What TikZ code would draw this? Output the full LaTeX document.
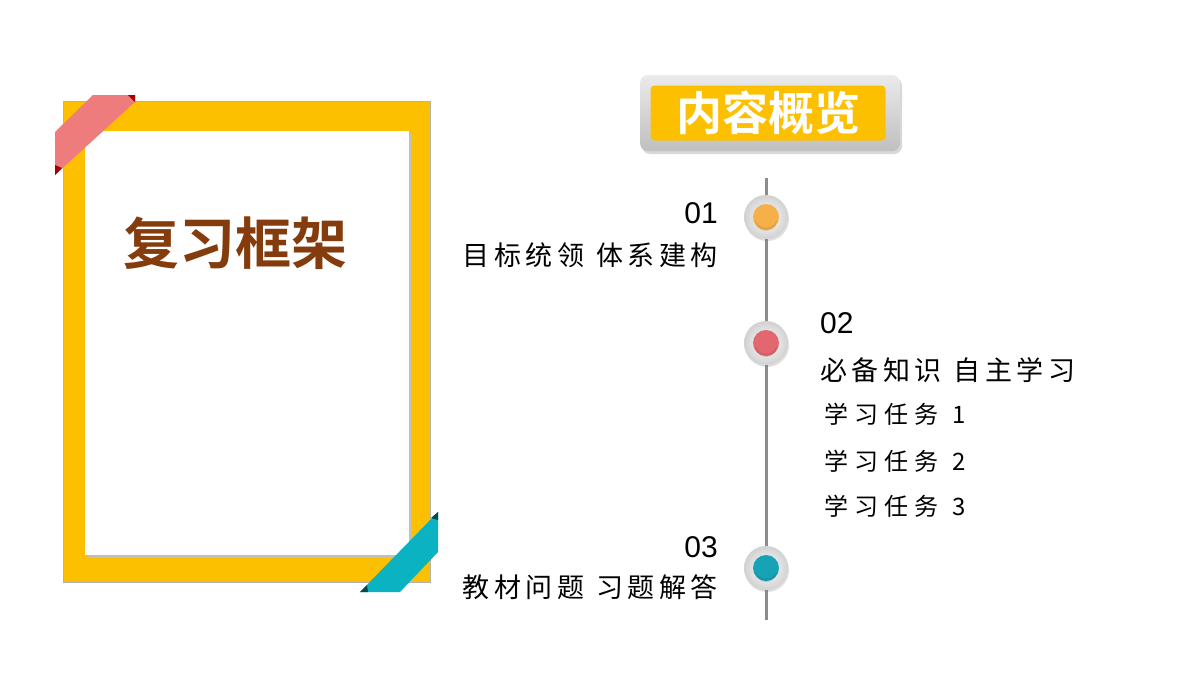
\documentclass[tikz,border=0pt]{standalone}
\usepackage{fontspec}
\newfontfamily\cjk{Noto Sans CJK SC}
\newfontfamily\cjkb{Noto Sans CJK SC Bold}
\usetikzlibrary{shadows}
\definecolor{gold}{HTML}{FDC000}
\definecolor{brownt}{HTML}{843C0C}
\definecolor{ribred}{HTML}{EE7C7C}
\definecolor{ribteal}{HTML}{0BB3C2}
\definecolor{dotor}{HTML}{F5B04A}
\definecolor{dotrd}{HTML}{E2676F}
\definecolor{dottl}{HTML}{17A3B5}
\tikzset{
 lbl/.style={font=\cjk\fontsize{27}{30}\selectfont,inner sep=0pt},
 sub/.style={font=\cjk\fontsize{24}{28}\selectfont,inner sep=0pt,anchor=west},
 num/.style={font=\fontspec{Liberation Sans}\fontsize{30}{32}\selectfont,inner sep=0pt},
 dotout/.style={circle,minimum size=44pt,inner sep=0pt,shading=radial,inner color=white,outer color=black!18,drop shadow={shadow xshift=1pt,shadow yshift=-2pt,opacity=0.25}},
}
\begin{document}
\begin{tikzpicture}[x=1pt,y=-1pt]
\useasboundingbox (0,0) rectangle (1200,675);
\fill[white] (0,0) rectangle (1200,675);
% frame
\fill[black!30] (63,101) rectangle (431,583);
\fill[gold] (64,102) rectangle (430,582);
\fill[black!25] (88,134) rectangle (412,558);
\fill[white] (85,131) rectangle (409,555);
% ribbons
\fill[ribred] (93,95) -- (135,95) -- (135,102) -- (55,175) -- (55,132) -- cycle;
\fill[red!65!black] (55,165) -- (62,168) -- (55,175) -- cycle;
\fill[red!65!black] (128,95) -- (135,95) -- (135,102) -- cycle;
\fill[ribteal] (438,512) -- (438,552) -- (400,592) -- (360,592) -- cycle;
\fill[teal!60!black] (438,512) -- (431,518) -- (438,520) -- cycle;
\fill[teal!60!black] (360,592) -- (367,585) -- (368,592) -- cycle;
\node[font=\cjkb\fontsize{56}{60}\selectfont,text=brownt] (t) at (235,243) {复习框架};
% title
\node[draw=none,rounded corners=8pt,minimum width=260pt,minimum height=76pt,
  top color=black!8,bottom color=black!25,drop shadow={shadow xshift=2pt,shadow yshift=-3pt,opacity=0.3}] (tb) at (770,113) {};
\node[fill=gold,rounded corners=4pt,minimum width=235pt,minimum height=55pt,inner sep=0pt,
  font=\cjkb\fontsize{46}{48}\selectfont,text=white] (tt) at (768,113) {内容概览};
% timeline
\coordinate (top) at (766,178);
\coordinate (bot) at (766,620);
\draw[line width=3pt,black!45] (top) -- (bot);
\foreach \n/\y/\c in {a/217/dotor,b/343/dotrd,c/568/dottl}{
  \node[dotout] (\n) at (766,\y) {};
  \fill[\c] (\n) circle (13pt);
  \fill[\c!70!black,opacity=0.25] (\n) ++(0,3) circle (11pt);
  \fill[\c] (\n) ++(0,-1) circle (11.5pt);
}
\node[num,anchor=east] (n1) at (718,213) {01};
\node[lbl,anchor=east] (l1) at (718,255) {目\,标\,统\,领\hspace{12pt}体\,系\,建\,构};
\node[num,anchor=west] (n2) at (820,323) {02};
\node[lbl,anchor=west] (l2) at (820,370) {必\,备\,知\,识\hspace{12pt}自\,主\,学\,习};
\node[sub] (s1) at (824,414) {学\hspace{6pt}习\hspace{6pt}任\hspace{6pt}务\hspace{14pt}1};
\node[sub] (s2) at (824,461) {学\hspace{6pt}习\hspace{6pt}任\hspace{6pt}务\hspace{14pt}2};
\node[sub] (s3) at (824,506) {学\hspace{6pt}习\hspace{6pt}任\hspace{6pt}务\hspace{14pt}3};
\node[num,anchor=east] (n3) at (718,547) {03};
\node[lbl,anchor=east] (l3) at (718,587) {教\,材\,问\,题\hspace{12pt}习\,题\,解\,答};
\end{tikzpicture}
\end{document}
